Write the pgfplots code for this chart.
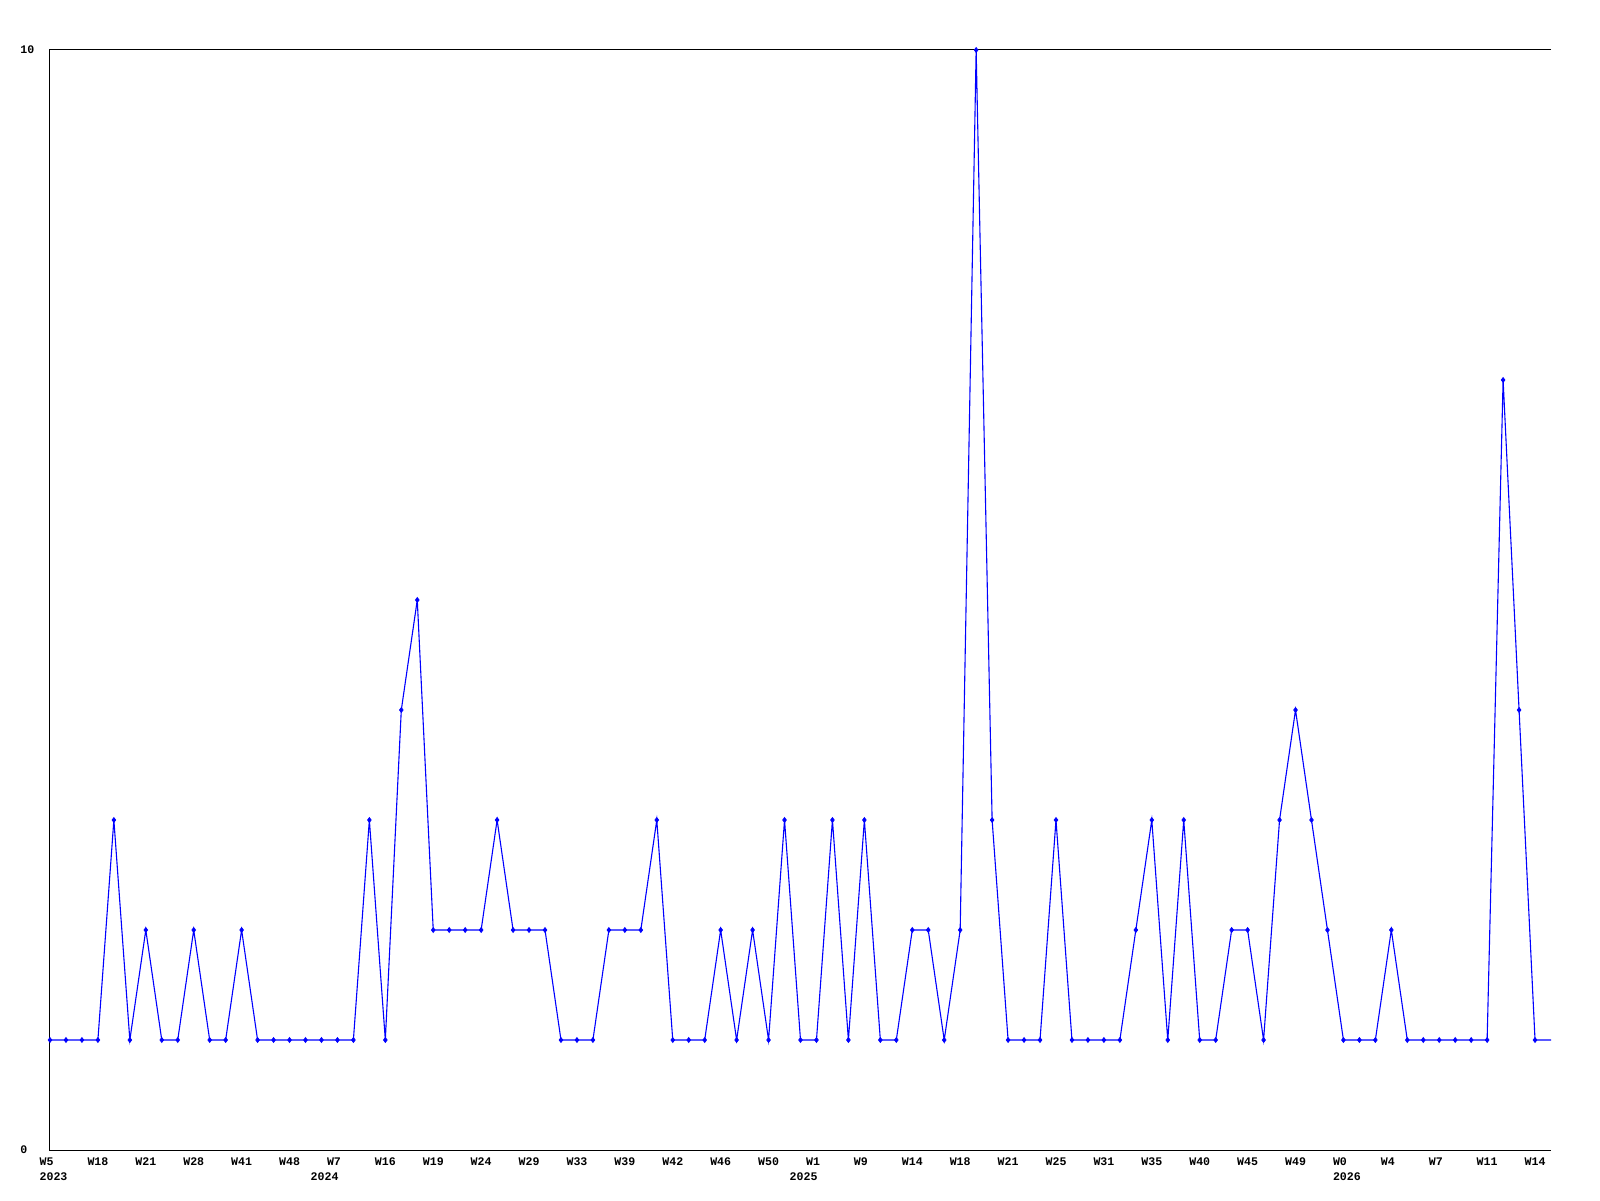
\documentclass[border=0pt]{standalone}
\usepackage{fontspec}
\setmonofont{Liberation Mono}
\usepackage{pgfplots}
\usepackage{pgfplotstable}
\pgfplotsset{compat=1.18}
\definecolor{lineblue}{RGB}{0,0,255}

% weekly counts, one row per week
\pgfplotstableread{
i v
0 1
1 1
2 1
3 1
4 3
5 1
6 2
7 1
8 1
9 2
10 1
11 1
12 2
13 1
14 1
15 1
16 1
17 1
18 1
19 1
20 3
21 1
22 4
23 5
24 2
25 2
26 2
27 2
28 3
29 2
30 2
31 2
32 1
33 1
34 1
35 2
36 2
37 2
38 3
39 1
40 1
41 1
42 2
43 1
44 2
45 1
46 3
47 1
48 1
49 3
50 1
51 3
52 1
53 1
54 2
55 2
56 1
57 2
58 10
59 3
60 1
61 1
62 1
63 3
64 1
65 1
66 1
67 1
68 2
69 3
70 1
71 3
72 1
73 1
74 2
75 2
76 1
77 3
78 4
79 3
80 2
81 1
82 1
83 1
84 2
85 1
86 1
87 1
88 1
89 1
90 1
91 7
92 4
93 1
94 1
}\weekly

\newcommand{\lblfont}{\ttfamily\bfseries\fontsize{5.8}{7}\selectfont}

\begin{document}
\begin{tikzpicture}
\useasboundingbox (-25pt,-25pt) rectangle (775pt,575pt);
\begin{axis}[
  at={(0,0)}, anchor=south west,
  scale only axis,
  width=750.5pt, height=550pt,
  xmin=0, xmax=94, ymin=0, ymax=10,
  clip=false,
  axis line style={draw=none},
  major tick length=0pt,
  ytick={0,10}, yticklabels={0,10},
  yticklabel style={font=\lblfont, anchor=west, inner sep=0pt, xshift=-15pt},
  xtick={0,3,...,93},
  xticklabels={W5,W18,W21,W28,W41,W48,W7,W16,W19,W24,W29,W33,W39,W42,W46,W50,W1,W9,W14,W18,W21,W25,W31,W35,W40,W45,W49,W0,W4,W7,W11,W14},
  xticklabel style={font=\lblfont, anchor=north west, inner sep=0pt, xshift=-5.4pt, yshift=-3.9pt},
]
  \draw[black, line width=0.5pt] (rel axis cs:1,1) -- (rel axis cs:0,1) -- (rel axis cs:0,0) -- (rel axis cs:1,0);
  \addplot[lineblue, line width=0.55pt, no marks] table[x=i, y=v] {\weekly};
  \addplot[lineblue, only marks, mark=diamond*, mark size=1.2pt,
    skip coords between index={94}{95}] table[x=i, y=v] {\weekly};
  \node[font=\lblfont, anchor=north west, inner sep=0pt] at ([xshift=-5.4pt, yshift=-11.4pt]axis cs:0,0) {2023};
  \node[font=\lblfont, anchor=north west, inner sep=0pt] at ([xshift=-13.6pt, yshift=-11.4pt]axis cs:18,0) {2024};
  \node[font=\lblfont, anchor=north west, inner sep=0pt] at ([xshift=-13.6pt, yshift=-11.4pt]axis cs:48,0) {2025};
  \node[font=\lblfont, anchor=north west, inner sep=0pt] at ([xshift=-5.4pt, yshift=-11.4pt]axis cs:81,0) {2026};
\end{axis}
\end{tikzpicture}
\end{document}
